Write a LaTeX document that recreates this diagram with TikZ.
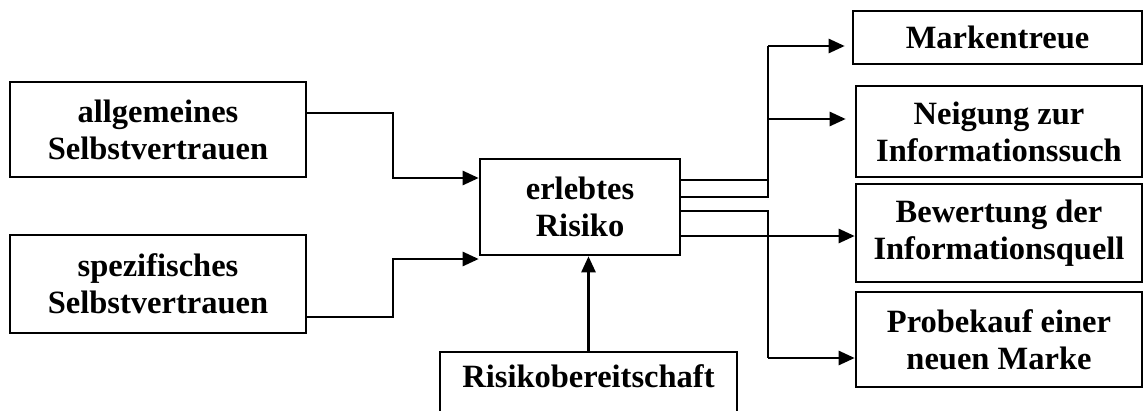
\documentclass[tikz,border=0pt]{standalone}
\usepackage{fontspec}
\setmainfont{Liberation Serif}
\usetikzlibrary{arrows.meta}
\begin{document}
\begin{tikzpicture}[x=1pt,y=-1pt,
  box/.style={draw, line width=2.6pt, align=center, inner sep=0pt,
    font=\bfseries\fontsize{32.5}{37}\selectfont},
  wire/.style={line width=2.6pt},
  arr/.style={wire, -{Triangle[length=16pt,width=14pt]}}]
\useasboundingbox (0,0) rectangle (1144,410);
\clip (0,0) rectangle (1144,410);

% influencing factors
\node[box, minimum width=296pt, minimum height=95pt] (ag) at (158,129.5) {allgemeines\\Selbstvertrauen};
\node[box, minimum width=296pt, minimum height=98pt] (sp) at (158,284) {spezifisches\\Selbstvertrauen};
\node[box, minimum width=200pt, minimum height=96pt] (er) at (580,207) {erlebtes\\Risiko};
\node[box, minimum width=297pt, minimum height=118pt, text height=22pt, text depth=70pt] (rb) at (588.5,411) {Risikobereitschaft};

% consequences
\node[box, minimum width=289pt, minimum height=53pt] (mk) at (997.5,37.5) {Markentreue};
\node[box, minimum width=286pt, minimum height=91pt] (ne) at (999,131.5) {Neigung zur\\Informationssuch};
\node[box, minimum width=286pt, minimum height=98pt] (bw) at (999,233) {Bewertung der\\Informationsquell};
\node[box, minimum width=286pt, minimum height=95pt] (pk) at (999,339.5) {Probekauf einer\\neuen Marke};

% inputs into perceived risk
\draw[arr] (ag.east |- 0,113) -- (393,113) |- (er.west |- 0,178);
\draw[arr] (sp.east |- 0,317) -- (393,317) |- (er.west |- 0,259);
\draw[arr] (rb.north) -- (rb.north |- er.south);

% outputs
\draw[wire] (er.east |- 0,197) -| (768,46);
\draw[wire] (er.east |- 0,180) -- (768,180);
\draw[arr, shorten >=7pt] (768,46) -- (mk.west |- 0,46);
\draw[arr, shorten >=9pt] (768,119) -- (ne.west |- 0,119);
\draw[wire] (er.east |- 0,211) -| (768,358);
\draw[arr] (768,358) -- (pk.west |- 0,358);
\draw[arr] (er.east |- 0,236) -- (bw.west |- 0,236);
\end{tikzpicture}
\end{document}
